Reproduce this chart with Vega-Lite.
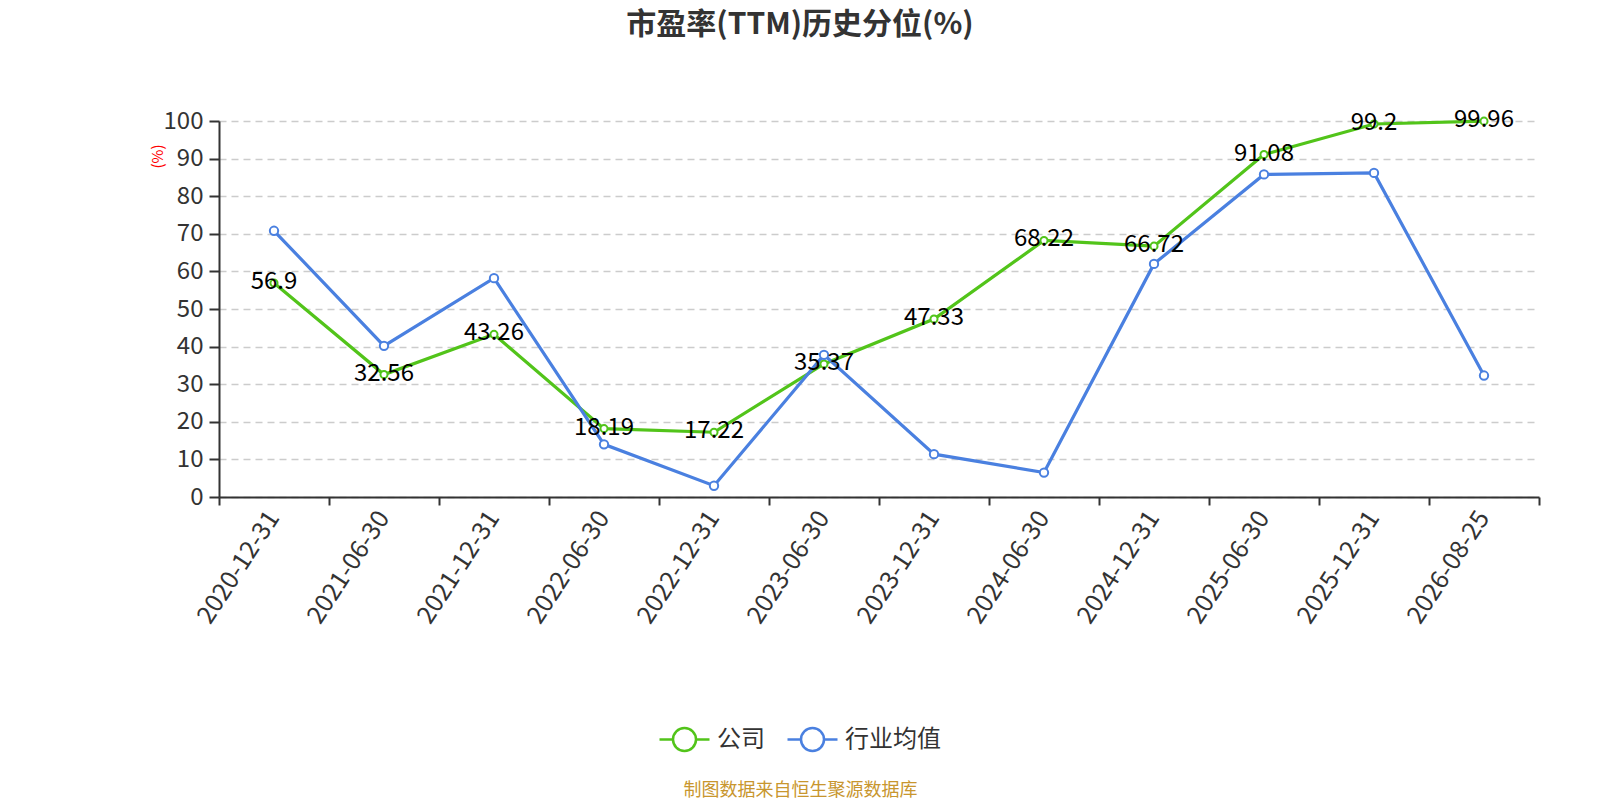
{
  "$schema": "https://vega.github.io/schema/vega-lite/v6.json",
  "width": 1320,
  "height": 376,
  "autosize": {"type": "none"},
  "padding": {"left": 219, "top": 121, "right": 61, "bottom": 303},
  "background": "white",
  "config": {"font": "Noto Sans CJK SC", "view": {"stroke": null}},
  "title": {
    "text": "市盈率(TTM)历史分位(%)",
    "fontSize": 30,
    "fontWeight": "bold",
    "color": "#333333",
    "anchor": "middle",
    "frame": "group",
    "dx": -79,
    "offset": 68
  },
  "data": {
    "values": [
      {"date": "2020-12-31", "series": "公司", "value": 56.9},
      {"date": "2021-06-30", "series": "公司", "value": 32.56},
      {"date": "2021-12-31", "series": "公司", "value": 43.26},
      {"date": "2022-06-30", "series": "公司", "value": 18.19},
      {"date": "2022-12-31", "series": "公司", "value": 17.22},
      {"date": "2023-06-30", "series": "公司", "value": 35.37},
      {"date": "2023-12-31", "series": "公司", "value": 47.33},
      {"date": "2024-06-30", "series": "公司", "value": 68.22},
      {"date": "2024-12-31", "series": "公司", "value": 66.72},
      {"date": "2025-06-30", "series": "公司", "value": 91.08},
      {"date": "2025-12-31", "series": "公司", "value": 99.2},
      {"date": "2026-08-25", "series": "公司", "value": 99.96},
      {"date": "2020-12-31", "series": "行业均值", "value": 70.8},
      {"date": "2021-06-30", "series": "行业均值", "value": 40.2},
      {"date": "2021-12-31", "series": "行业均值", "value": 58.2},
      {"date": "2022-06-30", "series": "行业均值", "value": 14.0},
      {"date": "2022-12-31", "series": "行业均值", "value": 3.0},
      {"date": "2023-06-30", "series": "行业均值", "value": 37.8},
      {"date": "2023-12-31", "series": "行业均值", "value": 11.4},
      {"date": "2024-06-30", "series": "行业均值", "value": 6.5},
      {"date": "2024-12-31", "series": "行业均值", "value": 62.0},
      {"date": "2025-06-30", "series": "行业均值", "value": 85.8},
      {"date": "2025-12-31", "series": "行业均值", "value": 86.2},
      {"date": "2026-08-25", "series": "行业均值", "value": 32.3}
    ]
  },
  "encoding": {
    "x": {
      "field": "date",
      "type": "nominal",
      "sort": null,
      "bandPosition": 0.5,
      "scale": {"type": "band", "paddingInner": 0, "paddingOuter": 0},
      "axis": {
        "title": "制图数据来自恒生聚源数据库",
        "titleColor": "#c8962e",
        "titleFontSize": 18,
        "titleFontWeight": "normal",
        "titleX": 581,
        "titleY": 293,
        "titleAlign": "center",
        "titleBaseline": "middle",
        "tickBand": "extent",
        "labelAngle": -57,
        "labelAlign": "right",
        "labelBaseline": "middle",
        "labelFontSize": 25,
        "labelColor": "#333333",
        "labelPadding": 8,
        "labelOffset": -1,
        "domainColor": "#333333",
        "domainWidth": 2,
        "tickColor": "#333333",
        "tickWidth": 2,
        "tickSize": 8,
        "grid": false
      }
    },
    "y": {
      "field": "value",
      "type": "quantitative",
      "scale": {"domain": [0, 100], "nice": false},
      "axis": {
        "title": "(%)",
        "titleColor": "red",
        "titleFontSize": 15,
        "titleFontWeight": "normal",
        "titleX": -62,
        "titleY": 35,
        "titleAlign": "center",
        "titleBaseline": "middle",
        "values": [0, 10, 20, 30, 40, 50, 60, 70, 80, 90, 100],
        "labelFontSize": 24,
        "labelColor": "#333333",
        "labelPadding": 6,
        "domainColor": "#333333",
        "domainWidth": 2,
        "tickColor": "#333333",
        "tickWidth": 2,
        "tickSize": 10,
        "grid": true,
        "gridColor": "#cccccc",
        "gridDash": [7, 5],
        "gridWidth": 1.5
      }
    }
  },
  "layer": [
    {
      "mark": {"type": "line", "strokeWidth": 3.2},
      "encoding": {
        "color": {
          "field": "series",
          "type": "nominal",
          "scale": {"domain": ["公司", "行业均值"], "range": ["#52c41a", "#4a80e0"]},
          "legend": {
            "title": null,
            "orient": "none",
            "direction": "horizontal",
            "legendX": 439,
            "legendY": 592,
            "padding": 0,
            "symbolType": "M-1,0L-0.46,0M0.46,0L1,0M0.46,0A0.46,0.46,0,1,1,-0.46,0A0.46,0.46,0,1,1,0.46,0",
            "symbolSize": 2500,
            "symbolStrokeWidth": 2.5,
            "symbolFillColor": "white",
            "labelFontSize": 24,
            "labelColor": "#333333",
            "labelOffset": 6,
            "columnPadding": 17,
            "encode": {
              "symbols": {"update": {"fill": {"value": "white"}, "fillOpacity": {"value": 1}}}
            }
          }
        }
      }
    },
    {
      "transform": [{"filter": "datum.series === '公司'"}],
      "mark": {"type": "point", "filled": true, "fill": "white", "stroke": "#52c41a", "strokeWidth": 2, "size": 50, "opacity": 1}
    },
    {
      "transform": [{"filter": "datum.series === '行业均值'"}],
      "mark": {"type": "point", "filled": true, "fill": "white", "stroke": "#4a80e0", "strokeWidth": 2, "size": 70, "opacity": 1}
    },
    {
      "transform": [{"filter": "datum.series === '公司'"}],
      "mark": {"type": "text", "fontSize": 24, "color": "black", "baseline": "middle", "align": "center", "dy": -1},
      "encoding": {
        "text": {"field": "value", "type": "quantitative"}
      }
    }
  ]
}
